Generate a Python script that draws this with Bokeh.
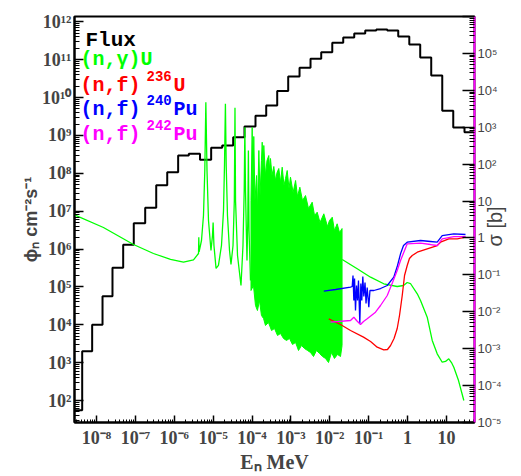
from bokeh.plotting import figure
from bokeh.models import Range1d, LogAxis, LogScale, FixedTicker, Label, CustomJSTickFormatter
from bokeh.embed import file_html
from bokeh.resources import INLINE

# ---------------- data ----------------
# neutron flux histogram: bin edges (MeV) and flux per bin (cm^-2 s^-1)
flux_edges_mev = [2.72e-9, 4.29e-9, 7.74e-9, 1.43e-8, 2.58e-8, 4.86e-8, 9.1e-8, 1.79e-7, 3.44e-7,
                  6.6e-7, 1.26e-6, 2.37e-6, 4.59e-6, 8.9e-6, 1.71e-5, 3.28e-5, 6.41e-5, 1.23e-4,
                  2.32e-4, 4.45e-4, 8.53e-4, 1.67e-3, 3.2e-3, 6.03e-3, 1.16e-2, 2.22e-2, 4.26e-2,
                  8.17e-2, 0.157, 0.301, 0.577, 1.11, 2.12, 4.07, 7.82, 15.0, 29.2, 52.8]
flux_values = [55, 2.0e3, 1.0e4, 5.7e4, 3.2e5, 1.3e6, 4.8e6, 1.23e7, 4.8e7, 1.07e8, 2.95e8, 3.27e8,
               2.29e8, 4.7e8, 5.4e8, 9.0e8, 1.72e9, 3.3e9, 6.2e9, 1.49e10, 3.6e10, 6.1e10, 1.05e11,
               1.57e11, 2.8e11, 3.85e11, 4.9e11, 5.9e11, 6.3e11, 5.9e11, 4.1e11, 2.5e11, 1.14e11,
               3.8e10, 4.5e9, 1.62e9, 1.22e9]

# (n,gamma) U : thermal + first resolved resonances
ng_res_e = [2.72e-9, 1.51e-8, 8.95e-8, 2.92e-7, 8.02e-7, 1.73e-6, 3.13e-6, 4.21e-6, 4.28e-6, 4.36e-6,
            5.02e-6, 5.65e-6, 6.11e-6, 6.5e-6, 6.96e-6, 7.6e-6, 8.81e-6, 9.63e-6, 1.0e-5, 1.05e-5,
            1.19e-5, 1.37e-5, 1.64e-5, 1.85e-5, 1.96e-5, 2.07e-5, 2.17e-5, 2.34e-5, 2.64e-5, 2.88e-5,
            3.25e-5, 3.51e-5, 3.65e-5, 3.77e-5, 4.24e-5, 5.21e-5, 5.86e-5, 6.3e-5, 6.55e-5, 6.8e-5,
            7.43e-5, 7.8e-5, 8.07e-5, 8.38e-5, 9.15e-5]
ng_res_sigma = [4.24, 1.92, 0.666, 0.379, 0.261, 0.220, 0.256, 0.379, 1.05, 0.42,
                0.853, 4.06, 67, 4760, 67, 2.97, 0.457, 1.16, 2.62, 0.624,
                0.149, 0.18, 0.624, 5.5, 92, 4300, 92, 4.06, 0.457, 0.191,
                0.624, 10.4, 3360, 10.4, 0.334, 0.0515, 0.624, 19.3, 1000, 19.3,
                0.245, 2.97, 234, 1.59, 0.0703]
# (n,gamma) U : dense resolved-resonance region, upper and lower envelope
ng_band_top_e = [9.42e-5, 1.01e-4, 1.06e-4, 1.11e-4, 1.19e-4, 1.31e-4, 1.38e-4, 1.50e-4, 1.61e-4,
                 1.75e-4, 1.83e-4, 1.92e-4, 2.01e-4, 2.22e-4, 2.43e-4, 2.70e-4, 2.85e-4, 2.99e-4,
                 3.27e-4, 3.64e-4, 4.02e-4, 4.40e-4, 4.89e-4, 5.41e-4, 5.98e-4, 6.65e-4, 7.28e-4,
                 8.04e-4, 8.95e-4, 9.77e-4, 1.14e-3, 1.32e-3, 1.48e-3, 1.70e-3, 1.99e-3, 2.38e-3,
                 2.84e-3, 3.53e-3, 4.06e-3, 4.75e-3, 5.61e-3, 7.03e-3, 8.75e-3, 9.84e-3, 1.16e-2,
                 1.32e-2, 1.55e-2, 1.78e-2, 2.07e-2]
ng_band_top_sigma = [10.3, 984, 19.3, 561, 10.3, 49.2, 5.55, 234, 14.1, 125, 393, 67.2, 320, 49.2,
                     125, 171, 67.2, 142, 49.2, 86.3, 36.0, 59.3, 76.1, 31.8, 82.6, 26.4, 40.8, 67.2,
                     21.9, 44.3, 17.0, 36.0, 13.3, 23.7, 10.3, 14.1, 6.28, 9.30, 4.06, 4.99, 2.62,
                     4.51, 2.04, 2.97, 3.65, 1.59, 2.42, 1.40, 1.80]
ng_band_bottom_e = [9.42e-5, 1.09e-4, 1.23e-4, 1.38e-4, 1.56e-4, 1.75e-4, 1.98e-4, 2.22e-4, 2.65e-4,
                    3.18e-4, 3.79e-4, 4.53e-4, 5.41e-4, 6.46e-4, 7.71e-4, 9.22e-4, 1.10e-3, 1.32e-3,
                    1.57e-3, 1.88e-3, 2.24e-3, 2.68e-3, 3.20e-3, 3.82e-3, 4.56e-3, 5.45e-3, 6.50e-3,
                    7.78e-3, 9.29e-3, 1.11e-2, 1.32e-2, 1.58e-2, 1.89e-2, 2.07e-2]
ng_band_bottom_sigma = [0.0377, 0.0515, 0.0148, 0.0108, 0.0202, 0.00793, 0.00657, 0.00425, 0.00512,
                        0.00311, 0.00352, 0.00228, 0.00258, 0.00189, 0.00167, 0.00189, 0.0013,
                        0.00147, 0.000893, 0.00122, 0.00101, 0.000893, 0.000788, 0.000614,
                        0.000893, 0.000741, 0.000614, 0.000542, 0.000422, 0.000788, 0.000542,
                        0.000697, 0.000614, 0.00122]
# (n,gamma) U : unresolved / fast region
ng_fast_e = [2.09e-2, 5.08e-2, 0.112, 0.245, 0.543, 0.789, 0.982, 1.19, 1.78, 2.16, 3.21, 4.32,
             5.80, 7.80, 9.49, 11.5, 13.5, 15.5, 20.5, 28.1]
ng_fast_sigma = [0.261, 0.146, 0.0865, 0.0573, 0.0484, 0.0515, 0.0621, 0.0583, 0.0307, 0.0202,
                 0.00713, 0.00167, 0.000726, 0.00043, 0.00045, 0.000532, 0.000422, 0.000315,
                 0.000137, 3.94e-5]

# (n,f) 236U
u236_e = [9.44e-3, 1.89e-2, 3.42e-2, 7.38e-2, 0.112, 0.166, 0.245, 0.305, 0.366, 0.450, 0.543,
          0.622, 0.731, 0.838, 0.982, 1.12, 1.32, 1.78, 3.21, 5.80, 7.06, 11.5, 19.0, 31.0]
u236_sigma = [0.00645, 0.00452, 0.00311, 0.00205, 0.00157, 0.0011, 0.000933, 0.00095, 0.00122,
              0.00189, 0.00352, 0.00793, 0.0276, 0.0961, 0.179, 0.277, 0.334, 0.411, 0.508,
              0.624, 0.767, 0.948, 0.948, 1.05]
# (n,f) 240Pu
pu240_e = [7.03e-3, 1.41e-2, 3.42e-2, 3.78e-2, 3.96e-2, 4.16e-2, 4.34e-2, 4.59e-2, 4.88e-2,
           5.18e-2, 5.48e-2, 5.93e-2, 6.30e-2, 6.67e-2, 7.08e-2, 7.52e-2, 8.07e-2, 8.57e-2,
           9.18e-2, 0.101, 0.108, 0.136, 0.202, 0.301, 0.443, 0.553, 0.661, 0.789, 0.982, 2.16,
           3.90, 5.80, 7.80, 15.5, 31.0]
pu240_sigma = [0.0361, 0.0401, 0.0463, 0.0484, 0.0961, 0.0202, 0.0797, 0.0108, 0.0515, 0.0202,
               0.0703, 0.00481, 0.0583, 0.0202, 0.0903, 0.0259, 0.0621, 0.0168, 0.0455, 0.0133,
               0.0377, 0.0377, 0.0427, 0.0515, 0.0865, 0.179, 0.372, 0.624, 0.767, 0.853, 0.802,
               0.767, 1.16, 1.29, 1.24]
# (n,f) 242Pu
pu242_e = [1.04e-2, 3.42e-2, 4.16e-2, 4.88e-2, 6.18e-2, 7.38e-2, 9.18e-2, 0.150, 0.202, 0.301,
           0.411, 0.543, 0.661, 0.804, 0.982, 2.16, 3.90, 5.80, 7.80, 15.5, 31.0]
pu242_sigma = [0.00521, 0.0058, 0.00713, 0.0058, 0.00452, 0.00545, 0.00645, 0.00973, 0.0148,
               0.0276, 0.0621, 0.131, 0.245, 0.411, 0.693, 0.721, 0.664, 0.624, 0.948, 1.09, 1.09]

# tick labels (decade exponent -> label text)
x_tick_exps = [-8, -7, -6, -5, -4, -3, -2, -1, 0, 1]
x_tick_labels = ["10⁻⁸", "10⁻⁷", "10⁻⁶", "10⁻⁵", "10⁻⁴", "10⁻³", "10⁻²", "10⁻¹", "1", "10"]
flux_tick_exps = [2, 3, 4, 5, 6, 7, 8, 9, 10, 11, 12]
flux_tick_labels = ["10²", "10³", "10⁴", "10⁵", "10⁶", "10⁷", "10⁸", "10⁹", "10¹⁰", "10¹¹", "10¹²"]
sigma_tick_exps = [-5, -4, -3, -2, -1, 0, 1, 2, 3, 4, 5]
sigma_tick_labels = ["10⁻⁵", "10⁻⁴", "10⁻³", "10⁻²", "10⁻¹", "1", "10", "10²", "10³", "10⁴", "10⁵"]

x_title = "Eₙ MeV"
flux_title = "ϕₙ cm⁻²s⁻¹"
sigma_title = "σ [b]"

legend_rows = [("(n,γ)", "", "U", "#00ff00"), ("(n,f)", "236", "U", "#ff0000"),
               ("(n,f)", "240", "Pu", "#0000ff"), ("(n,f)", "242", "Pu", "#ff00ff")]

# ---------------- figure ----------------
SERIF, SANS, MONO = "Liberation Serif", "Liberation Sans", "Liberation Mono"
FL, FT, FW, FH = 74, 16, 400, 406
SIGMA_TITLE_START = 0.586   # where the rotated right-hand title starts (sigma scale)

p = figure(frame_width=FW, frame_height=FH, x_axis_type="log", y_axis_type="log",
           x_range=Range1d(2.72e-9, 52.8), y_range=Range1d(26.3, 1.38e12),
           output_backend="svg", toolbar_location=None,
           min_border_left=FL, min_border_right=47, min_border_top=FT, min_border_bottom=54)
p.extra_y_ranges = {"sigma": Range1d(1e-5, 1e6)}
p.extra_y_scales = {"sigma": LogScale()}
p.grid.visible = False
p.outline_line_color = "black"
p.outline_line_width = 2
p.background_fill_color = "white"
p.border_fill_color = "white"


def decade_ticker(lo, hi):
    majors = [10.0 ** e for e in range(lo, hi + 1)]
    minors = [m * 10.0 ** e for e in range(lo - 1, hi + 1) for m in range(2, 10)]
    return FixedTicker(ticks=majors, minor_ticks=minors)


def label_formatter(exps, labels):
    return CustomJSTickFormatter(
        args=dict(exps=exps, labels=labels),
        code="const e = Math.round(Math.log10(tick)); const i = exps.indexOf(e);"
             " return i < 0 ? '' : labels[i];")


def style_axis(ax, tin, mtin):
    ax.major_tick_in = tin
    ax.major_tick_out = 0
    ax.minor_tick_in = mtin
    ax.minor_tick_out = 0
    ax.major_tick_line_width = 1.5
    ax.minor_tick_line_width = 1
    ax.major_tick_line_color = "black"
    ax.minor_tick_line_color = "black"
    ax.axis_line_width = 2


xa = p.xaxis[0]
xa.ticker = decade_ticker(-9, 2)
xa.formatter = label_formatter(x_tick_exps, x_tick_labels)
style_axis(xa, 7, 3)
xa.major_label_standoff = 5
xa.major_label_text_font = SERIF
xa.major_label_text_font_style = "bold"
xa.major_label_text_font_size = "18px"
xa.axis_label = x_title
xa.axis_label_standoff = 0
xa.axis_label_text_font = SERIF
xa.axis_label_text_font_style = "bold"
xa.axis_label_text_font_size = "20px"

ya = p.yaxis[0]
ya.ticker = decade_ticker(1, 13)
ya.formatter = label_formatter(flux_tick_exps, flux_tick_labels)
style_axis(ya, 9, 5)
ya.major_label_standoff = 3
ya.major_label_text_font = SERIF
ya.major_label_text_font_style = "bold"
ya.major_label_text_font_size = "18px"
ya.axis_label = flux_title
ya.axis_label_standoff = -2
ya.axis_label_text_font = SANS
ya.axis_label_text_font_style = "bold"
ya.axis_label_text_font_size = "18px"

ra = LogAxis(y_range_name="sigma", ticker=decade_ticker(-5, 6),
             formatter=label_formatter(sigma_tick_exps, sigma_tick_labels))
style_axis(ra, 12, 5)
ra.axis_line_color = "#ff00ff"
ra.major_label_standoff = 3
ra.major_label_text_font = SANS
ra.major_label_text_font_size = "13px"
p.add_layout(ra, "right")

# right-hand title, written bottom-to-top like the reference
rt = LogAxis(y_range_name="sigma", ticker=FixedTicker(ticks=[SIGMA_TITLE_START], minor_ticks=[]),
             formatter=CustomJSTickFormatter(args=dict(t=sigma_title), code="return t;"))
rt.axis_line_color = None
rt.major_tick_line_color = None
rt.minor_tick_line_color = None
rt.major_tick_in = 0
rt.major_tick_out = 0
rt.minor_tick_in = 0
rt.minor_tick_out = 0
rt.major_label_orientation = 1.5708
rt.major_label_standoff = -9
rt.major_label_text_font = SANS
rt.major_label_text_font_size = "20px"
p.add_layout(rt, "right")

# ---------------- glyphs ----------------
p.step(x=flux_edges_mev, y=flux_values + [flux_values[-1]], mode="after",
       line_color="black", line_width=2)

GREEN = "#00ff00"
p.line(ng_res_e, ng_res_sigma, y_range_name="sigma", line_color=GREEN, line_width=1.3)
p.patch(ng_band_top_e + ng_band_bottom_e[::-1], ng_band_top_sigma + ng_band_bottom_sigma[::-1],
        y_range_name="sigma", fill_color=GREEN, line_color=GREEN, line_width=1)
p.line(ng_fast_e, ng_fast_sigma, y_range_name="sigma", line_color=GREEN, line_width=1.3)
p.line(u236_e, u236_sigma, y_range_name="sigma", line_color="#ff0000", line_width=1.3)
p.line(pu240_e, pu240_sigma, y_range_name="sigma", line_color="#0000ff", line_width=1.3)
p.line(pu242_e, pu242_sigma, y_range_name="sigma", line_color="#ff00ff", line_width=1.3)


def lab(**kw):
    p.add_layout(Label(x_units="screen", y_units="screen", text_font=MONO,
                       text_font_style="bold", text_baseline="alphabetic", **kw))


# legend (inside the frame)
lab(x=11, y=382, text="Flux", text_font_size="21px", text_color="black")
row_y = [363, 337, 313, 288]
for (main, sup, tail, col), ry in zip(legend_rows, row_y):
    lab(x=6, y=ry, text=main + (tail if not sup else ""), text_font_size="20px", text_color=col)
    if sup:
        lab(x=72, y=ry + 10, text=sup, text_font_size="14px", text_color=col)
        lab(x=99, y=ry, text=tail, text_font_size="20px", text_color=col)

open("out.html", "w").write(file_html(p, INLINE))
